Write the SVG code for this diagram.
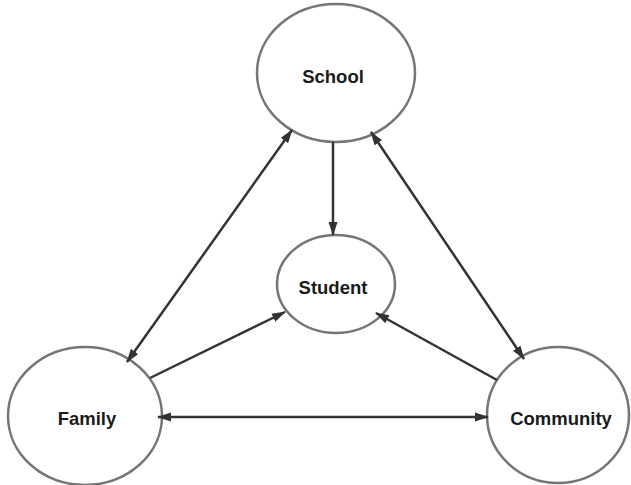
<svg xmlns="http://www.w3.org/2000/svg" width="631" height="485" viewBox="0 0 631 485">
<style>
.node{fill:#fff;stroke:#757575;stroke-width:2.5}
.lbl{font-family:"Liberation Sans",Arial,sans-serif;font-weight:bold;font-size:18.5px;fill:#1a1a1a;text-anchor:middle;dominant-baseline:central}
.edge{stroke:#333;stroke-width:2.5;fill:none}
</style>
<defs>
<marker id="ah" markerUnits="userSpaceOnUse" markerWidth="14" markerHeight="10" refX="13" refY="5" orient="auto-start-reverse">
<path d="M0,0.5 L14,5 L0,9.5 z" fill="#333"/>
</marker>
</defs>
<rect width="631" height="485" fill="#fff"/>
<g id="school"><ellipse class="node" cx="336" cy="73" rx="79" ry="69"/><text class="lbl" x="333" y="76">School</text></g>
<g id="student"><ellipse class="node" cx="336" cy="284" rx="59" ry="49"/><text class="lbl" x="333" y="287">Student</text></g>
<g id="family"><ellipse class="node" cx="85" cy="416" rx="77" ry="69"/><text class="lbl" x="87" y="418">Family</text></g>
<g id="community"><ellipse class="node" cx="558" cy="415" rx="71" ry="68"/><text class="lbl" x="561" y="418">Community</text></g>
<g id="connectors">
<line class="edge" x1="333" y1="142" x2="333" y2="235" marker-end="url(#ah)"/>
<line class="edge" x1="292" y1="130" x2="127" y2="362" marker-start="url(#ah)" marker-end="url(#ah)"/>
<line class="edge" x1="371" y1="132" x2="524" y2="359" marker-start="url(#ah)" marker-end="url(#ah)"/>
<line class="edge" x1="150" y1="378" x2="285" y2="312" marker-end="url(#ah)"/>
<line class="edge" x1="497" y1="380" x2="376" y2="313" marker-end="url(#ah)"/>
<line class="edge" x1="158" y1="417" x2="488" y2="417" marker-start="url(#ah)" marker-end="url(#ah)"/>
</g>
</svg>
